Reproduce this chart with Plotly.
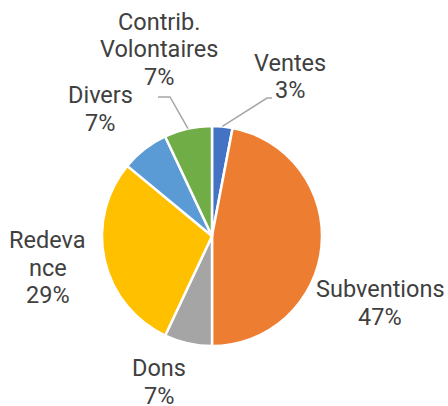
import math
import plotly.graph_objects as go

# Data
labels = ['Ventes', 'Subventions', 'Dons', 'Redevance', 'Divers', 'Contrib. Volontaires']
values = [3, 47, 7, 29, 7, 7]
# how each category name wraps in the reference
label_lines = [['Ventes'], ['Subventions'], ['Dons'], ['Redeva', 'nce'], ['Divers'],
               ['Contrib.', 'Volontaires']]

COLORS = ['#4472C4', '#ED7D31', '#A5A5A5', '#FFC000', '#5B9BD5', '#70AD47']
TEXT_COLOR = '#404040'
FONT = 'Roboto, sans-serif'
FONT_SIZE = 23.5
LINE_GAP = 27.5  # px between text lines

W, H = 448, 406
CX, CY, R = 212, 236, 110  # pie centre / radius in px


def px_to_paper(x, y):
    return x / W, 1 - y / H


# centre x and first-line y (px) of each label block
label_pos = {
    'Ventes': (290, 63),
    'Subventions': (380, 289),
    'Dons': (159, 368),
    'Redevance': (47.5, 240),
    'Divers': (100, 95),
    'Contrib. Volontaires': (159, 21.5),
}
# leader lines: (knee, end) in px
leaders = {
    'Ventes': ((267, 98), (272, 98)),
    'Contrib. Volontaires': ((170, 97), (158, 97)),
}

total = sum(values)
fig = go.Figure(go.Pie(
    labels=labels,
    values=values,
    sort=False,
    direction='clockwise',
    rotation=0,
    textinfo='none',
    hoverinfo='label+percent',
    marker=dict(colors=COLORS, line=dict(color='white', width=2.5)),
    domain=dict(x=[(CX - R) / W, (CX + R) / W], y=[1 - (CY + R) / H, 1 - (CY - R) / H]),
    showlegend=False,
))

annotations = []
shapes = []
cum = 0
for lab, lines, v in zip(labels, label_lines, values):
    pct = round(100 * v / total)
    mid = (cum + v / 2) / total * 2 * math.pi
    cum += v
    lx, ly = label_pos[lab]
    for i, txt in enumerate(lines + [f'{pct}%']):
        x, y = px_to_paper(lx, ly + i * LINE_GAP)
        annotations.append(dict(
            x=x, y=y, xref='paper', yref='paper', showarrow=False,
            text=txt, xanchor='center', yanchor='middle',
            font=dict(family=FONT, size=FONT_SIZE, color=TEXT_COLOR),
        ))
    if lab in leaders:
        ax, ay = CX + R * math.sin(mid), CY - R * math.cos(mid)
        (kx, ky), (ex, ey) = leaders[lab]
        pts = [px_to_paper(ax, ay), px_to_paper(kx, ky), px_to_paper(ex, ey)]
        path = 'M {} {} L {} {} L {} {}'.format(*[c for p in pts for c in p])
        shapes.append(dict(type='path', xref='paper', yref='paper', path=path,
                           line=dict(color='#A6A6A6', width=1.5)))

fig.update_layout(
    width=W, height=H,
    margin=dict(l=0, r=0, t=0, b=0),
    paper_bgcolor='white',
    plot_bgcolor='white',
    font=dict(family=FONT, color=TEXT_COLOR),
    annotations=annotations,
    shapes=shapes,
)

fig.write_html('out.html', config={'displayModeBar': False},
               post_script="document.body.style.margin='0';")
